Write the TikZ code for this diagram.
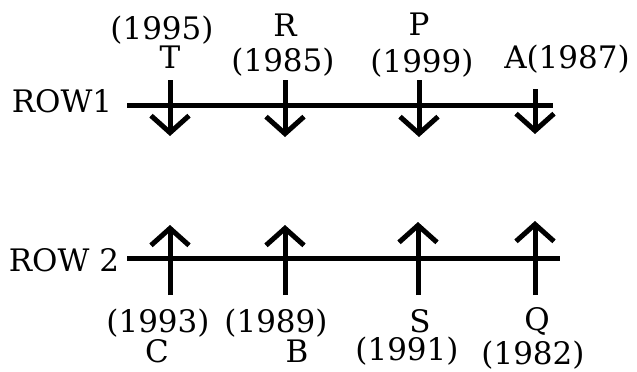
\documentclass[tikz,border=0pt]{standalone}
\usepackage{fontspec}
\setmainfont{DejaVu Serif}
\usetikzlibrary{arrows.meta}

\begin{document}
\begin{tikzpicture}[
    x=1pt,y=-1pt,
    lbl/.style={font=\fontsize{31}{36}\selectfont,inner sep=0pt,anchor=base},
    bar/.style={black,line width=5pt},
    arr/.style={black,line width=5pt,-{Straight Barb[length=17pt,width=38pt]}}
    ]
    \useasboundingbox (0,0) rectangle (637,372);

    % row 1
    \node[lbl] (row1) at (62,112) {ROW1};
    \coordinate (r1a) at (127,105);
    \coordinate (r1b) at (553,105);
    \draw[bar] (r1a) -- (r1b);
    \coordinate (t1) at (170,80);  \coordinate (t2) at (170,136);
    \coordinate (r1) at (285,80);  \coordinate (r2) at (285,137);
    \coordinate (p1) at (419,80);  \coordinate (p2) at (419,137);
    \coordinate (a1) at (535,89);  \coordinate (a2) at (535,134);
    \draw[arr] (t1) -- (t2);
    \draw[arr] (r1) -- (r2);
    \draw[arr] (p1) -- (p2);
    \draw[arr] (a1) -- (a2);
    \node[lbl] (yT) at (162,39) {(1995)};
    \node[lbl] (nT) at (170,68) {T};
    \node[lbl] (nR) at (285,36) {R};
    \node[lbl] (yR) at (283,71) {(1985)};
    \node[lbl] (nP) at (419,35) {P};
    \node[lbl] (yP) at (422,72) {(1999)};
    \node[lbl] (nA) at (567,68) {A(1987)};

    % row 2
    \node[lbl] (row2) at (64,271) {ROW 2};
    \coordinate (r2a) at (127,258);
    \coordinate (r2b) at (560,258);
    \draw[bar] (r2a) -- (r2b);
    \coordinate (c1) at (170,295);  \coordinate (c2) at (170,225);
    \coordinate (b1) at (285,295);  \coordinate (b2) at (285,225);
    \coordinate (s1) at (418,295);  \coordinate (s2) at (418,222);
    \coordinate (q1) at (535,295);  \coordinate (q2) at (535,221);
    \draw[arr] (c1) -- (c2);
    \draw[arr] (b1) -- (b2);
    \draw[arr] (s1) -- (s2);
    \draw[arr] (q1) -- (q2);
    \node[lbl] (yC) at (158,332) {(1993)};
    \node[lbl] (yB) at (276,332) {(1989)};
    \node[lbl] (nC) at (157,362) {C};
    \node[lbl] (nB) at (297,362) {B};
    \node[lbl] (nS) at (420,332) {S};
    \node[lbl] (yS) at (407,360) {(1991)};
    \node[lbl] (nQ) at (537,330) {Q};
    \node[lbl] (yQ) at (533,364) {(1982)};
\end{tikzpicture}
\end{document}
